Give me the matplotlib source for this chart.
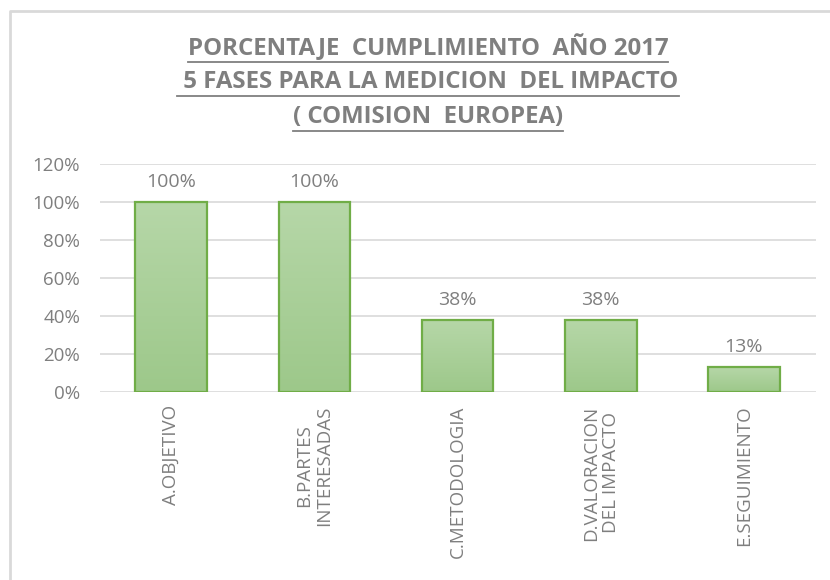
import matplotlib
matplotlib.use("Agg")
import matplotlib.pyplot as plt
import numpy as np
from matplotlib.colors import LinearSegmentedColormap
from matplotlib.lines import Line2D

categories = ["A.OBJETIVO", "B.PARTES\nINTERESADAS", "C.METODOLOGIA",
              "D.VALORACION\nDEL IMPACTO", "E.SEGUIMIENTO"]
values = [1.00, 1.00, 0.38, 0.38, 0.13]
value_labels = ["100%", "100%", "38%", "38%", "13%"]
yticks = [0, 0.2, 0.4, 0.6, 0.8, 1.0, 1.2]
ytick_labels = ["0%", "20%", "40%", "60%", "80%", "100%", "120%"]
title_lines = ["PORCENTAJE  CUMPLIMIENTO  AÑO 2017",
               " 5 FASES PARA LA MEDICION  DEL IMPACTO",
               "( COMISION  EUROPEA)"]

FONT = "Open Sans"
GRAY = "#7f7f7f"
W, H = 830, 580

fig = plt.figure(figsize=(W / 100, H / 100), dpi=100)
ax = fig.add_axes([99.5 / W, 1 - 392 / H, 716 / W, 228 / H])

x = np.arange(len(categories))
bars = ax.bar(x, values, width=0.5, color="none", edgecolor="#70ad47",
              linewidth=1.6, zorder=3)

cmap = LinearSegmentedColormap.from_list("g", ["#9dc88a", "#b6d7a8"])
grad = np.linspace(0, 1, 256).reshape(-1, 1)
for b in bars:
    x0, y0 = b.get_x(), b.get_y()
    w, h = b.get_width(), b.get_height()
    im = ax.imshow(grad, cmap=cmap, origin="lower", aspect="auto",
                   extent=[x0, x0 + w, y0, y0 + h], zorder=2)
    im.set_clip_path(b)

for xi, v, lab in zip(x, values, value_labels):
    ax.annotate(lab, (xi, v), xytext=(0, 11), textcoords="offset points",
                ha="center", va="baseline", fontsize=14, color=GRAY,
                family=FONT)

ax.set_xlim(-0.5, len(categories) - 0.5)
ax.set_ylim(0, 1.2)
ax.set_yticks(yticks)
ax.set_yticklabels(ytick_labels, family=FONT, fontsize=13.5, color=GRAY)
ax.set_xticks([])
ax.tick_params(axis="y", length=0, pad=14)
for s in ax.spines.values():
    s.set_visible(False)
ax.grid(axis="y", color="#d9d9d9", linewidth=1.2, zorder=0)
ax.set_axisbelow(True)

for xi, lab in zip(x, categories):
    ax.text(xi, -0.07, lab, rotation=90, ha="center", va="top",
            multialignment="center", fontsize=13.5, color=GRAY, family=FONT,
            transform=ax.transData, linespacing=1.12)

# chart frame
fig.add_artist(Line2D([10 / W, 10 / W, 1], [0, 1 - 11 / H, 1 - 11 / H],
                      color="#d9d9d9", linewidth=2, transform=fig.transFigure))

# title lines with underline
title_y = [48, 82, 117]
texts = []
for ty, line in zip(title_y, title_lines):
    t = fig.text(428 / W, 1 - ty / H, line, ha="center", va="center",
                 fontsize=17.3, fontweight="bold", color=GRAY, family=FONT)
    texts.append(t)
fig.canvas.draw()
r = fig.canvas.get_renderer()
for ty, t in zip(title_y, texts):
    bb = t.get_window_extent(r)
    uy = 1 - (ty + 14) / H
    fig.add_artist(Line2D([bb.x0 / W, bb.x1 / W], [uy, uy], color=GRAY,
                          linewidth=1.3, transform=fig.transFigure))

fig.savefig("out.png", dpi=100)
